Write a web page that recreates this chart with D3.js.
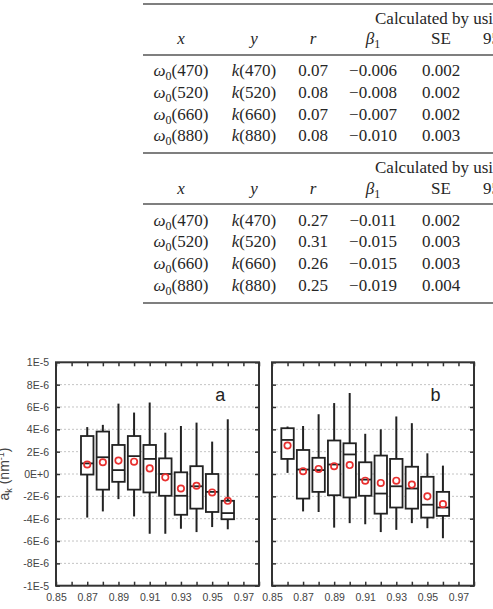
<!DOCTYPE html>
<html>
<head>
<meta charset="utf-8">
<script src="https://cdn.jsdelivr.net/npm/d3@7"></script>
<style>
  body { margin: 0; background: #fff; }
  svg { display: block; }
</style>
</head>
<body>
<div id="viz"></div>
<script>
// ---- table data ----
const colHeads = ["x", "y", "r", "β1", "SE", "95% CI"];
const tableTitle = "Calculated by using the whole data set";
const xVars = ["470", "520", "660", "880"];
const rA = ["0.07", "0.08", "0.07", "0.08"];
const b1A = ["−0.006", "−0.008", "−0.007", "−0.010"];
const seA = ["0.002", "0.002", "0.002", "0.003"];
const rB = ["0.27", "0.31", "0.26", "0.25"];
const b1B = ["−0.011", "−0.015", "−0.015", "−0.019"];
const seB = ["0.002", "0.003", "0.003", "0.004"];

// ---- box plot data (units of 1E-6 nm^-1) ----
const catsA = [0.87, 0.88, 0.89, 0.90, 0.91, 0.92, 0.93, 0.94, 0.95, 0.96];
const hiA   = [4.2, 4.4, 6.3, 5.5, 6.4, 3.7, 4.3, 4.6, 2.9, 4.9];
const q3A   = [3.4, 3.8, 2.6, 3.4, 2.6, 1.4, 0.15, 0.7, 0.0, -2.4];
const medA  = [0.95, 1.5, 0.35, 1.6, 1.35, 0.0, -1.95, -1.1, -1.6, -3.5];
const q1A   = [-0.05, -1.4, -0.7, -1.4, -1.65, -1.95, -3.65, -3.1, -3.4, -4.05];
const loA   = [-3.9, -3.35, -2.25, -3.8, -5.35, -5.35, -4.9, -5.2, -4.75, -4.95];
const meanA = [0.85, 1.05, 1.2, 1.1, 0.5, -0.3, -1.3, -1.05, -1.65, -2.4];

const catsB = [0.86, 0.87, 0.88, 0.89, 0.90, 0.91, 0.92, 0.93, 0.94, 0.95, 0.96];
const hiB   = [4.25, 4.3, 5.35, 6.35, 7.25, 3.6, 4.0, 5.15, 4.55, 1.85, 0.75];
const q3B   = [4.1, 2.15, 1.45, 3.0, 2.75, 1.05, 1.65, 1.35, 0.65, -0.25, -1.6];
const medB  = [3.05, 0.4, 0.35, 0.85, 1.75, -0.5, -1.75, -1.1, -1.3, -2.75, -3.0];
const q1B   = [1.35, -2.2, -1.6, -1.9, -2.1, -1.95, -3.55, -3.0, -3.1, -3.9, -3.75];
const loB   = [0.1, -3.35, -3.4, -4.8, -4.4, -4.5, -5.2, -5.0, -4.4, -4.85, -5.75];
const meanB = [2.55, 0.25, 0.45, 0.7, 0.8, -0.6, -0.8, -0.6, -0.95, -2.0, -2.7];

const yTickVals = [-10, -8, -6, -4, -2, 0, 2, 4, 6, 8, 10];
const yTickLabels = ["-1E-5", "-8E-6", "-6E-6", "-4E-6", "-2E-6", "0E+0", "2E-6", "4E-6", "6E-6", "8E-6", "1E-5"];

const width = 493, height = 609;

const svg = d3.select("#viz")
  .append("svg")
  .attr("width", width)
  .attr("height", height)
  .attr("viewBox", [0, 0, width, height]);

// ---------------- table ----------------
const tbl = svg.append("g")
  .style("font-family", "'Liberation Serif', 'Times New Roman', serif")
  .style("font-size", "17px")
  .attr("fill", "#262626");

const colX = [181, 254, 313, 373, 441];
const tableLeft = 143;

[4, 55, 153, 204, 303].forEach(y => {
  tbl.append("line")
    .attr("x1", tableLeft).attr("x2", width)
    .attr("y1", y).attr("y2", y)
    .attr("stroke", "#555")
    .attr("stroke-width", 1.6);
});

function headerRow(yTitle, yHead) {
  tbl.append("text")
    .attr("x", 375).attr("y", yTitle + 5)
    .text(tableTitle);

  colHeads.forEach((h, i) => {
    const t = tbl.append("text").attr("y", yHead + 5);
    if (i < 5) t.attr("x", colX[i]).attr("text-anchor", "middle");
    else t.attr("x", 483);
    if (h === "β1") {
      t.append("tspan").attr("font-style", "italic").text("β");
      t.append("tspan").attr("font-size", "12px").attr("dy", 4).text("1");
    } else if (h === "x" || h === "y" || h === "r") {
      t.attr("font-style", "italic").text(h);
    } else {
      t.text(h);
    }
  });
}

function bodyRows(ys, rv, bv, sv) {
  xVars.forEach((w, i) => {
    const y = ys[i] + 5;
    const t0 = tbl.append("text").attr("x", colX[0]).attr("y", y).attr("text-anchor", "middle");
    t0.append("tspan").attr("font-style", "italic").text("ω");
    t0.append("tspan").attr("font-size", "12px").attr("dy", 4).text("0");
    t0.append("tspan").attr("dy", -4).text("(" + w + ")");

    const t1 = tbl.append("text").attr("x", colX[1]).attr("y", y).attr("text-anchor", "middle");
    t1.append("tspan").attr("font-style", "italic").text("k");
    t1.append("tspan").text("(" + w + ")");

    tbl.append("text").attr("x", colX[2]).attr("y", y).attr("text-anchor", "middle").text(rv[i]);
    tbl.append("text").attr("x", colX[3]).attr("y", y).attr("text-anchor", "middle").text(bv[i]);
    tbl.append("text").attr("x", colX[4]).attr("y", y).attr("text-anchor", "middle").text(sv[i]);
  });
}

headerRow(19, 39);
bodyRows([71, 93, 115, 136], rA, b1A, seA);
headerRow(168, 189);
bodyRows([221, 242, 264, 286], rB, b1B, seB);

// ---------------- box plots ----------------
const plotTop = 362.3, plotBottom = 585.7;

const y = d3.scaleLinear().domain([-10, 10]).range([plotBottom, plotTop]);

const xTicks = d3.range(85, 99).map(d => d / 100);

function panel(x0, x1, label, cats, hi, q3, med, q1, lo, mean, showY) {
  const x = d3.scaleLinear().domain([0.85, 0.98]).range([x0, x1]);
  const g = svg.append("g");

  // grid
  g.append("g")
    .selectAll("line")
    .data(yTickVals.slice(1, -1))
    .join("line")
    .attr("x1", x0).attr("x2", x1)
    .attr("y1", d => y(d)).attr("y2", d => y(d))
    .attr("stroke", "#c4c4c4")
    .attr("stroke-width", 1)
    .attr("stroke-dasharray", "2,2");

  const tickStyle = sel => {
    sel.select(".domain").remove();
    sel.selectAll(".tick line").attr("stroke", "#333").attr("stroke-width", 1.5);
    sel.selectAll(".tick text")
      .attr("fill", "#444")
      .style("font-family", "'Liberation Sans', Arial, sans-serif")
      .style("font-size", "10.5px");
  };

  g.append("g")
    .attr("transform", `translate(${x0},0)`)
    .call(d3.axisLeft(y).tickValues(yTickVals).tickSize(-4).tickPadding(7)
      .tickFormat((d, i) => showY ? yTickLabels[i] : ""))
    .call(tickStyle);

  g.append("g")
    .attr("transform", `translate(${x1},0)`)
    .call(d3.axisRight(y).tickValues(yTickVals).tickSize(-4).tickFormat(""))
    .call(tickStyle);

  g.append("g")
    .attr("transform", `translate(0,${plotBottom})`)
    .call(d3.axisBottom(x).tickValues(xTicks).tickSize(-4).tickPadding(8)
      .tickFormat(d => Math.round(d * 100) % 2 === 1 ? d3.format(".2f")(d) : ""))
    .call(tickStyle);

  g.append("g")
    .attr("transform", `translate(0,${plotTop})`)
    .call(d3.axisTop(x).tickValues(xTicks).tickSize(-4).tickFormat(""))
    .call(tickStyle);

  g.append("rect")
    .attr("x", x0).attr("y", plotTop)
    .attr("width", x1 - x0).attr("height", plotBottom - plotTop)
    .attr("fill", "none")
    .attr("stroke", "#333")
    .attr("stroke-width", 2);

  const bw = (x(0.86) - x(0.85)) * 0.8;

  const box = g.append("g")
    .selectAll("g")
    .data(cats.map((c, i) => ({c, hi: hi[i], q3: q3[i], med: med[i], q1: q1[i], lo: lo[i], mean: mean[i]})))
    .join("g")
    .attr("transform", d => `translate(${x(d.c)},0)`);

  box.append("line")
    .attr("y1", d => y(d.hi)).attr("y2", d => y(d.q3))
    .attr("stroke", "#222").attr("stroke-width", 2);
  box.append("line")
    .attr("y1", d => y(d.q1)).attr("y2", d => y(d.lo))
    .attr("stroke", "#222").attr("stroke-width", 2);
  box.append("rect")
    .attr("x", -bw / 2).attr("width", bw)
    .attr("y", d => y(d.q3)).attr("height", d => y(d.q1) - y(d.q3))
    .attr("fill", "#fff")
    .attr("stroke", "#222").attr("stroke-width", 1.8);
  box.append("line")
    .attr("x1", -bw / 2).attr("x2", bw / 2)
    .attr("y1", d => y(d.med)).attr("y2", d => y(d.med))
    .attr("stroke", "#222").attr("stroke-width", 1.8);
  box.append("circle")
    .attr("cy", d => y(d.mean))
    .attr("r", 3.2)
    .attr("fill", "none")
    .attr("stroke", "#e8302f")
    .attr("stroke-width", 1.7);

  g.append("text")
    .attr("x", x(0.95) + 8).attr("y", 401)
    .attr("text-anchor", "middle")
    .style("font-family", "'Liberation Sans', Arial, sans-serif")
    .style("font-size", "18px")
    .attr("fill", "#222")
    .text(label);
}

panel(56, 259, "a", catsA, hiA, q3A, medA, q1A, loA, meanA, true);
panel(272, 474, "b", catsB, hiB, q3B, medB, q1B, loB, meanB, false);

// y axis title
const yt = svg.append("text")
  .attr("transform", `translate(9,${(plotTop + plotBottom) / 2}) rotate(-90)`)
  .attr("text-anchor", "middle")
  .style("font-family", "'Liberation Sans', Arial, sans-serif")
  .style("font-size", "14px")
  .attr("fill", "#444");
yt.append("tspan").text("a");
yt.append("tspan").attr("font-size", "9px").attr("dy", 3).text("k");
yt.append("tspan").attr("dy", -3).text(" (nm");
yt.append("tspan").attr("font-size", "9px").attr("dy", -5).text("-1");
yt.append("tspan").attr("dy", 5).text(")");
</script>
</body>
</html>
